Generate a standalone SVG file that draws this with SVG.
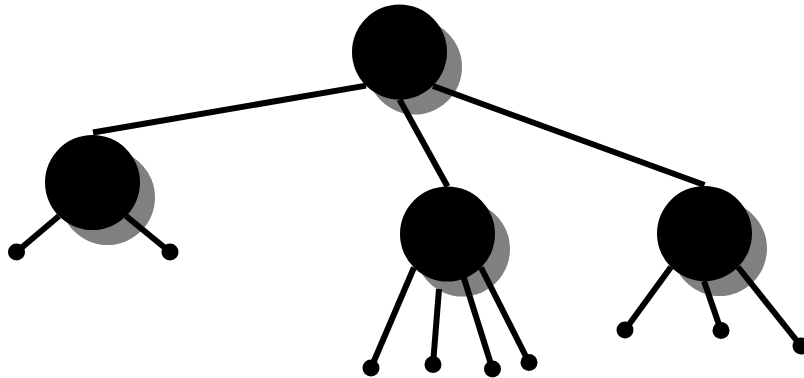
<svg xmlns="http://www.w3.org/2000/svg" width="804" height="378" viewBox="0 0 804 378">
<style>
.shadow{fill:#808080}
.node{fill:#000}
.edge{stroke:#000;stroke-width:6;fill:none}
.leaf{fill:#000}
</style>
<rect width="804" height="378" fill="#fff"/>
<g id="shadows">
<circle class="shadow" cx="414.5" cy="67" r="47.5"/>
<circle class="shadow" cx="107.5" cy="197.5" r="47.5"/>
<circle class="shadow" cx="462.5" cy="249" r="47.5"/>
<circle class="shadow" cx="719.5" cy="248.5" r="47.5"/>
</g>
<g id="connectors">
<line class="edge" x1="366" y1="85.6" x2="93" y2="132.5"/>
<line class="edge" x1="399.5" y1="99.5" x2="447.5" y2="186.5"/>
<line class="edge" x1="433" y1="86" x2="704.5" y2="185"/>
<line class="edge" x1="59" y1="216" x2="16.5" y2="252"/>
<line class="edge" x1="126" y1="216" x2="170" y2="252"/>
<line class="edge" x1="414" y1="267.5" x2="371" y2="368"/>
<line class="edge" x1="439" y1="289" x2="433" y2="364.5"/>
<line class="edge" x1="462" y1="272" x2="492.5" y2="369"/>
<line class="edge" x1="481" y1="267.5" x2="529" y2="362.5"/>
<line class="edge" x1="671" y1="267" x2="625" y2="330"/>
<line class="edge" x1="704" y1="281" x2="721" y2="330.5"/>
<line class="edge" x1="738" y1="267" x2="801" y2="346"/>
</g>
<g id="root"><circle class="node" cx="399.5" cy="52" r="47.5"/></g>
<g id="left"><circle class="node" cx="92.5" cy="182.5" r="47.5"/></g>
<g id="middle"><circle class="node" cx="447.5" cy="234" r="47.5"/></g>
<g id="right"><circle class="node" cx="704.5" cy="233.5" r="47.5"/></g>
<g id="leaf1"><circle class="leaf" cx="16.5" cy="252" r="8.5"/></g>
<g id="leaf2"><circle class="leaf" cx="170" cy="252" r="8.5"/></g>
<g id="leaf3"><circle class="leaf" cx="371" cy="368" r="8.5"/></g>
<g id="leaf4"><circle class="leaf" cx="433" cy="364.5" r="8.5"/></g>
<g id="leaf5"><circle class="leaf" cx="492.5" cy="369" r="8.5"/></g>
<g id="leaf6"><circle class="leaf" cx="529" cy="362.5" r="8.5"/></g>
<g id="leaf7"><circle class="leaf" cx="625" cy="330" r="8.5"/></g>
<g id="leaf8"><circle class="leaf" cx="721" cy="330.5" r="8.5"/></g>
<g id="leaf9"><circle class="leaf" cx="801" cy="346" r="8.5"/></g>
</svg>
